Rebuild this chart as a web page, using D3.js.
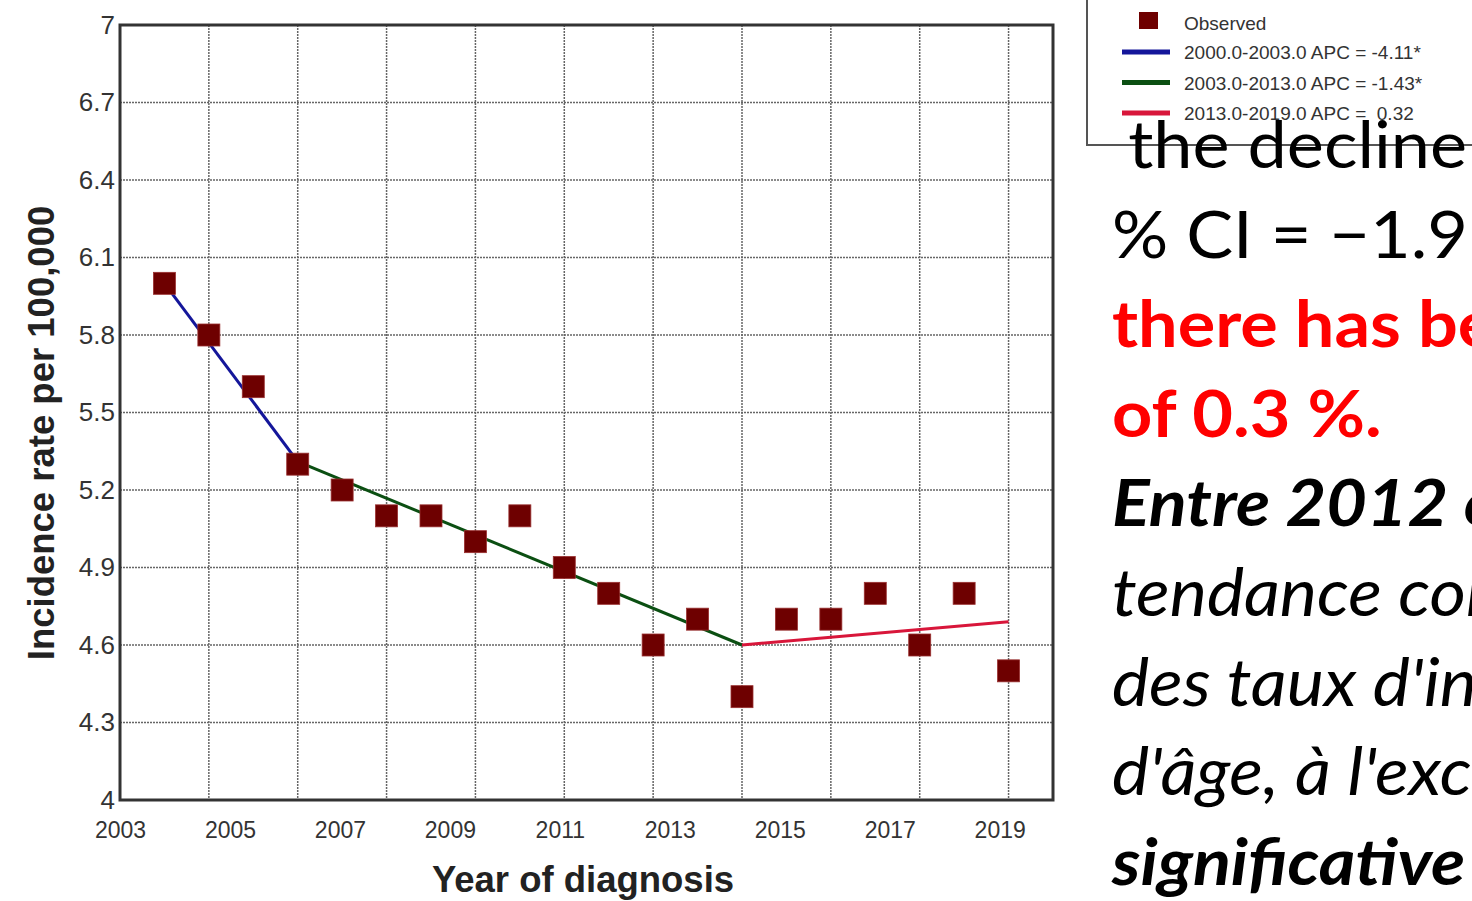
<!DOCTYPE html>
<html>
<head>
<meta charset="utf-8">
<script src="https://cdn.jsdelivr.net/npm/d3@7"></script>
<style>
  body { margin: 0; background: #fff; }
  svg { display: block; }
</style>
</head>
<body>
<div class="chart-container"></div>
<script>
// observed incidence rates
const years = [2000, 2001, 2002, 2003, 2004, 2005, 2006, 2007, 2008, 2009,
               2010, 2011, 2012, 2013, 2014, 2015, 2016, 2017, 2018, 2019];
const rates = [6.0, 5.8, 5.6, 5.3, 5.2, 5.1, 5.1, 5.0, 5.1, 4.9,
               4.8, 4.6, 4.7, 4.4, 4.7, 4.7, 4.8, 4.6, 4.8, 4.5];

// joinpoint segments
const segFrom = [2000, 2003, 2013];
const segTo = [2003, 2013, 2019];
const segFromVal = [6.0, 5.31, 4.6];
const segToVal = [5.31, 4.6, 4.69];
const segColors = ['#14169a', '#0b4f12', '#d8163a'];
const segLabels = ['2000.0-2003.0 APC = -4.11*', '2003.0-2013.0 APC = -1.43*', '2013.0-2019.0 APC =  0.32'];

// axis ticks
const yTicks = [4, 4.3, 4.6, 4.9, 5.2, 5.5, 5.8, 6.1, 6.4, 6.7, 7];
const xGridYears = [2001, 2003, 2005, 2007, 2009, 2011, 2013, 2015, 2017, 2019];
const xTickLabels = ['2003', '2005', '2007', '2009', '2011', '2013', '2015', '2017', '2019'];

// slide text overlapping on the right
const slideLines = [
  { text: 'the decline', style: 'normal', weight: 400, color: '#000', dx: 15 },
  { text: '% CI = \u22121.9 %', style: 'normal', weight: 400, color: '#000', dx: 0 },
  { text: 'there has been', style: 'normal', weight: 700, color: '#ff0000', dx: 0 },
  { text: 'of 0.3 %.', style: 'normal', weight: 700, color: '#ff0000', dx: 0 },
  { text: 'Entre 2012 et', style: 'italic', weight: 700, color: '#000', dx: 0 },
  { text: 'tendance constante', style: 'italic', weight: 400, color: '#000', dx: 0 },
  { text: "des taux d'incidence", style: 'italic', weight: 400, color: '#000', dx: 0 },
  { text: "d'\u00e2ge, \u00e0 l'exception", style: 'italic', weight: 400, color: '#000', dx: 0 },
  { text: 'significative', style: 'italic', weight: 700, color: '#000', dx: 0 }
];

const W = 1472, H = 901;
const plot = { left: 120, right: 1053, top: 25, bottom: 800 };
const font = '"Liberation Sans", Arial, sans-serif';

const svg = d3.select('.chart-container')
    .append('svg')
    .attr('width', W)
    .attr('height', H);

const x = d3.scaleLinear()
    .domain([1999, 2020])
    .range([plot.left, plot.right]);

const y = d3.scaleLinear()
    .domain([4, 7])
    .range([plot.bottom, plot.top]);

// tick labels are spread evenly along the bottom
const xLab = d3.scalePoint()
    .domain(xTickLabels)
    .range([x(1999), x(2018.8)]);

// Add gridlines
svg.append('g')
    .selectAll('line')
    .data(yTicks.slice(1, -1))
    .enter().append('line')
    .attr('x1', plot.left).attr('x2', plot.right)
    .attr('y1', d => y(d)).attr('y2', d => y(d))
    .attr('stroke', '#666')
    .attr('stroke-width', 1.5)
    .attr('stroke-dasharray', '2,1');

svg.append('g')
    .selectAll('line')
    .data(xGridYears)
    .enter().append('line')
    .attr('x1', d => x(d)).attr('x2', d => x(d))
    .attr('y1', plot.top).attr('y2', plot.bottom)
    .attr('stroke', '#666')
    .attr('stroke-width', 1.5)
    .attr('stroke-dasharray', '2,1');

// frame
svg.append('rect')
    .attr('x', plot.left)
    .attr('y', plot.top)
    .attr('width', plot.right - plot.left)
    .attr('height', plot.bottom - plot.top)
    .attr('fill', 'none')
    .attr('stroke', '#333')
    .attr('stroke-width', 3);

// y tick labels
const yAxis = svg.append('g')
    .attr('transform', `translate(${plot.left},0)`)
    .call(d3.axisLeft(y).tickValues(yTicks).tickSize(0).tickPadding(5).tickFormat(d3.format('')));
yAxis.select('.domain').remove();
yAxis.selectAll('text')
    .attr('font-family', font)
    .attr('font-size', 26)
    .attr('fill', '#333');

// x tick labels
const xAxis = svg.append('g')
    .attr('transform', `translate(0,${plot.bottom})`)
    .call(d3.axisBottom(xLab).tickSize(0).tickPadding(22));
xAxis.select('.domain').remove();
xAxis.selectAll('text')
    .attr('font-family', font)
    .attr('font-size', 23)
    .attr('fill', '#333');

// axis titles
svg.append('text')
    .attr('x', 583)
    .attr('y', 892)
    .attr('text-anchor', 'middle')
    .attr('font-family', font)
    .attr('font-weight', 'bold')
    .attr('font-size', 36.5)
    .attr('fill', '#222')
    .text('Year of diagnosis');

svg.append('text')
    .attr('transform', 'translate(54,433) rotate(-90)')
    .attr('text-anchor', 'middle')
    .attr('font-family', font)
    .attr('font-weight', 'bold')
    .attr('font-size', 36.5)
    .attr('fill', '#222')
    .text('Incidence rate per 100,000');

// joinpoint lines
svg.append('g')
    .selectAll('line')
    .data(segFrom.map((d, i) => ({ x0: d, x1: segTo[i], y0: segFromVal[i], y1: segToVal[i], c: segColors[i] })))
    .enter().append('line')
    .attr('x1', d => x(d.x0)).attr('y1', d => y(d.y0))
    .attr('x2', d => x(d.x1)).attr('y2', d => y(d.y1))
    .attr('stroke', d => d.c)
    .attr('stroke-width', 3);

// observed points
const sq = 22;
svg.append('g')
    .selectAll('rect')
    .data(years.map((d, i) => ({ year: d, value: rates[i] })))
    .enter().append('rect')
    .attr('x', d => x(d.year) - sq / 2)
    .attr('y', d => y(d.value) - sq / 2)
    .attr('width', sq)
    .attr('height', sq)
    .attr('fill', '#6e0000')
    .attr('stroke', '#9a3030')
    .attr('stroke-width', 0.8);

// legend
const lg = svg.append('g');
lg.append('path')
    .attr('d', 'M1087,0 V145 H1472')
    .attr('fill', 'none')
    .attr('stroke', '#555')
    .attr('stroke-width', 2);
lg.append('rect')
    .attr('x', 1139).attr('y', 12)
    .attr('width', 19).attr('height', 17)
    .attr('fill', '#6e0000');
lg.append('text')
    .attr('x', 1184).attr('y', 30)
    .attr('font-family', font)
    .attr('font-size', 19)
    .attr('fill', '#333')
    .text('Observed');
segLabels.forEach((t, i) => {
    const ly = 52 + i * 30.5;
    lg.append('line')
        .attr('x1', 1122).attr('x2', 1170)
        .attr('y1', ly).attr('y2', ly)
        .attr('stroke', segColors[i])
        .attr('stroke-width', 5);
    lg.append('text')
        .attr('x', 1184).attr('y', ly + 7)
        .attr('font-family', font)
        .attr('font-size', 19)
        .attr('fill', '#333')
        .style('white-space', 'pre')
        .text(t);
});

// overlapping slide text
svg.append('g')
    .attr('transform', 'translate(1112,0) scale(1.08,1)')
    .selectAll('text')
    .data(slideLines)
    .enter().append('text')
    .attr('x', d => d.dx)
    .attr('y', (d, i) => 168 + i * 89.6)
    .attr('font-family', 'Lato, "Open Sans", sans-serif')
    .attr('font-size', 65)
    .attr('font-style', d => d.style)
    .attr('font-weight', d => d.weight)
    .attr('fill', d => d.color)
    .text(d => d.text);
</script>
</body>
</html>
